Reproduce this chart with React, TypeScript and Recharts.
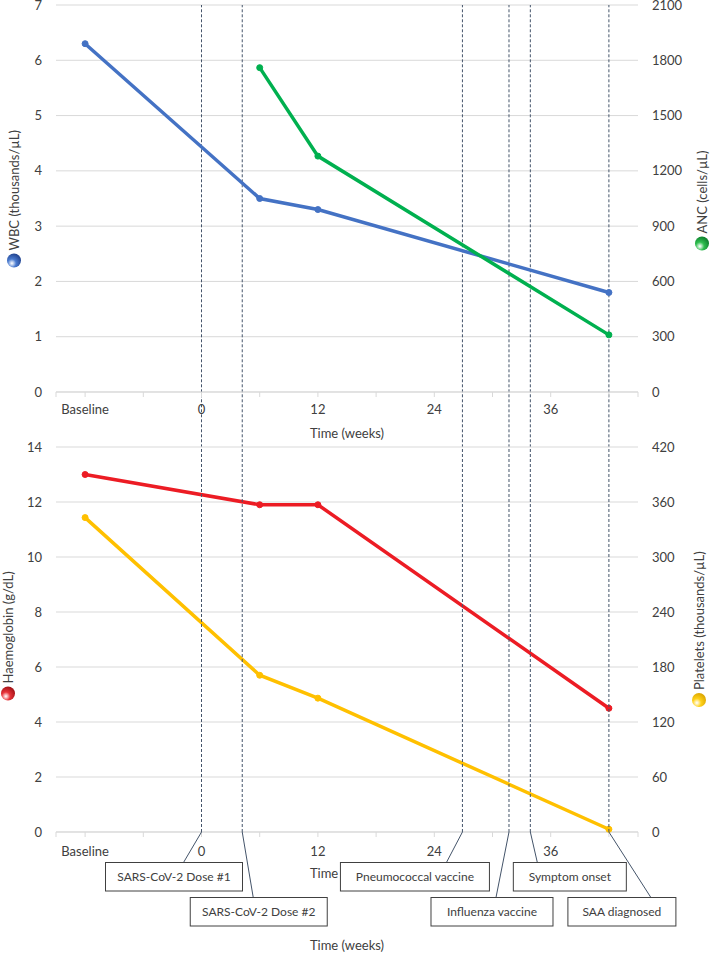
import React from "react";
import { LineChart, Line, XAxis, YAxis, CartesianGrid, ReferenceLine } from "recharts";

// blood counts, x = weeks (Baseline plotted at -12)
const WEEKS = [-12, 6, 12, 42];
const WBC = [6.3, 3.5, 3.3, 1.8];
const ANC = [null, 1760, 1280, 310];
const HB = [13.0, 11.9, 11.9, 4.5];
const PLT = [343, 171, 146, 3];

const X_TICKS = [-15, -12, -6, 0, 6, 12, 18, 24, 30, 36, 42, 45];
const WBC_TICKS = [0, 1, 2, 3, 4, 5, 6, 7];
const ANC_TICKS = [0, 300, 600, 900, 1200, 1500, 1800, 2100];
const HB_TICKS = [0, 2, 4, 6, 8, 10, 12, 14];
const PLT_TICKS = [0, 60, 120, 180, 240, 300, 360, 420];

const EVENT_LABELS = [
  "SARS-CoV-2 Dose #1",
  "SARS-CoV-2 Dose #2",
  "Pneumococcal vaccine",
  "Influenza vaccine",
  "Symptom onset",
  "SAA diagnosed",
];
const EVENT_WEEKS = [0, 4.2, 26.9, 31.7, 33.9, 42];

// callout placement: box left offset from line, box width, row, leader end offset
const CALLOUTS = [
  { left: -96, width: 137, row: 0, lead: -18 },
  { left: -52, width: 137, row: 1, lead: 11 },
  { left: -122, width: 149, row: 0, lead: -16 },
  { left: -78, width: 122, row: 1, lead: -13 },
  { left: -17, width: 113, row: 0, lead: 7 },
  { left: -41, width: 108, row: 1, lead: 42 },
];

const topData = WEEKS.map((w, i) => ({ week: w, wbc: WBC[i], anc: ANC[i] }));
const bottomData = WEEKS.map((w, i) => ({ week: w, hb: HB[i], plt: PLT[i] }));

const FONT = "Lato, 'Open Sans', sans-serif";
const TEXT = "#404040";
const GRID = "#d9d9d9";
const EVENT_COLOR = "#44546a";

const fmtWeek = (v: number) => (v === -12 ? "Baseline" : v % 12 === 0 && v >= 0 && v <= 36 ? String(v) : "");

function AxisTitle({ viewBox, text, color, dark, offsetX, shift = 0, gid }: any) {
  const cx = viewBox.x + offsetX;
  const cy = viewBox.y + viewBox.height / 2 + shift;
  const textW = text.length * 6.5;
  const total = 14 + 3 + textW;
  const start = -total / 2;
  return (
    <g transform={`translate(${cx},${cy}) rotate(-90)`}>
      <defs>
        <radialGradient id={gid} cx="30%" cy="35%" r="75%">
          <stop offset="0%" stopColor="#ffffff" stopOpacity={0.85} />
          <stop offset="40%" stopColor={color} />
          <stop offset="100%" stopColor={dark} />
        </radialGradient>
      </defs>
      <circle cx={start + 7} cy={0} r={7} fill={`url(#${gid})`} />
      <text x={start + 17} y={0} dominantBaseline="central" fontSize={13} fill={TEXT} fontFamily={FONT}>
        {text}
      </text>
    </g>
  );
}

function TimeTitle({ viewBox, extra }: any) {
  const cx = viewBox.x + viewBox.width / 2;
  return (
    <g>
      <text x={cx} y={viewBox.y + 41} textAnchor="middle" dominantBaseline="central" fontSize={13} fill={TEXT} fontFamily={FONT}>
        Time (weeks)
      </text>
      {extra && (
        <text x={cx} y={viewBox.y + 113} textAnchor="middle" dominantBaseline="central" fontSize={13} fill={TEXT} fontFamily={FONT}>
          Time (weeks)
        </text>
      )}
    </g>
  );
}

function Callout({ viewBox, idx }: any) {
  const c = CALLOUTS[idx];
  const lx = viewBox.x;
  const ly = viewBox.y + viewBox.height;
  const top = ly + (c.row === 0 ? 30.5 : 65.5);
  const h = 28.5;
  return (
    <g>
      <line x1={lx} y1={ly} x2={lx + c.lead} y2={top} stroke={EVENT_COLOR} strokeWidth={1} />
      <rect x={lx + c.left} y={top} width={c.width} height={h} fill="#fff" stroke={TEXT} strokeWidth={1} />
      <text
        x={lx + c.left + c.width / 2}
        y={top + h / 2}
        textAnchor="middle"
        dominantBaseline="central"
        fontSize={12}
        fill={TEXT}
        fontFamily={FONT}
      >
        {EVENT_LABELS[idx]}
      </text>
    </g>
  );
}

const lineProps = (color: string) => ({
  type: "linear" as const,
  stroke: color,
  strokeWidth: 3.5,
  dot: { r: 3, fill: color, stroke: color, strokeWidth: 1 },
  activeDot: false as const,
  isAnimationActive: false,
});

export default function App() {
  return (
    <div style={{ position: "absolute", left: 0, top: 0, width: 710, height: 962, background: "#fff", fontFamily: FONT }}>
      <div style={{ position: "absolute", left: 0, top: 0 }}>
        <LineChart width={710} height={447} data={topData} margin={{ top: 5, right: 0, bottom: 0, left: 0 }}>
          <CartesianGrid yAxisId="left" vertical={false} stroke={GRID} />
          <XAxis
            type="number"
            dataKey="week"
            domain={[-15, 45]}
            ticks={X_TICKS}
            interval={0}
            tickFormatter={fmtWeek}
            height={55}
            tickSize={5}
            tickMargin={8}
            axisLine={{ stroke: GRID }}
            tickLine={{ stroke: GRID }}
            tick={{ fontSize: 13, fill: TEXT, fontFamily: FONT }}
            label={(p: any) => <TimeTitle viewBox={p.viewBox} />}
          />
          <YAxis
            yAxisId="left"
            domain={[0, 7]}
            ticks={WBC_TICKS}
            interval={0}
            width={56}
            axisLine={false}
            tickLine={false}
            tickMargin={8}
            tick={{ fontSize: 13, fill: TEXT, fontFamily: FONT }}
            label={(p: any) => (
              <AxisTitle viewBox={p.viewBox} text="WBC (thousands/µL)" color="#4a7bd0" dark="#1f3f8a" offsetX={14} shift={2} gid="gWbc" />
            )}
          />
          <YAxis
            yAxisId="right"
            orientation="right"
            domain={[0, 2100]}
            ticks={ANC_TICKS}
            interval={0}
            width={72}
            axisLine={false}
            tickLine={false}
            tickMargin={8}
            tick={{ fontSize: 13, fill: TEXT, fontFamily: FONT }}
            label={(p: any) => (
              <AxisTitle viewBox={p.viewBox} text="ANC (cells/µL)" color="#2fbf4f" dark="#0b7a2a" offsetX={64} shift={-2} gid="gAnc" />
            )}
          />
          {EVENT_WEEKS.map((w, i) => (
            <ReferenceLine
              key={`t${i}`}
              yAxisId="left"
              segment={[{ x: w, y: -1 }, { x: w, y: 7 }]}
              ifOverflow="visible"
              stroke={EVENT_COLOR}
              strokeWidth={1}
              strokeDasharray="3 2"
            />
          ))}
          <Line yAxisId="left" dataKey="wbc" {...lineProps("#4472c4")} />
          <Line yAxisId="right" dataKey="anc" {...lineProps("#00b04f")} />
        </LineChart>
      </div>
      <div style={{ position: "absolute", left: 0, top: 427 }}>
        <LineChart width={710} height={535} data={bottomData} margin={{ top: 20, right: 0, bottom: 0, left: 0 }}>
          <CartesianGrid yAxisId="left" vertical={false} stroke={GRID} />
          <XAxis
            type="number"
            dataKey="week"
            domain={[-15, 45]}
            ticks={X_TICKS}
            interval={0}
            tickFormatter={fmtWeek}
            height={130}
            tickSize={5}
            tickMargin={9.5}
            axisLine={{ stroke: GRID }}
            tickLine={{ stroke: GRID }}
            tick={{ fontSize: 13, fill: TEXT, fontFamily: FONT }}
            label={(p: any) => <TimeTitle viewBox={p.viewBox} extra />}
          />
          <YAxis
            yAxisId="left"
            domain={[0, 14]}
            ticks={HB_TICKS}
            interval={0}
            width={56}
            axisLine={false}
            tickLine={false}
            tickMargin={8}
            tick={{ fontSize: 13, fill: TEXT, fontFamily: FONT }}
            label={(p: any) => (
              <AxisTitle viewBox={p.viewBox} text="Haemoglobin (g/dL)" color="#e8343a" dark="#9e0f14" offsetX={8} shift={-6} gid="gHb" />
            )}
          />
          <YAxis
            yAxisId="right"
            orientation="right"
            domain={[0, 420]}
            ticks={PLT_TICKS}
            interval={0}
            width={72}
            axisLine={false}
            tickLine={false}
            tickMargin={8}
            tick={{ fontSize: 13, fill: TEXT, fontFamily: FONT }}
            label={(p: any) => (
              <AxisTitle viewBox={p.viewBox} text="Platelets (thousands/µL)" color="#ffd21a" dark="#d9a300" offsetX={61} shift={-19} gid="gPlt" />
            )}
          />
          <Line yAxisId="left" dataKey="hb" {...lineProps("#ec1c24")} />
          <Line yAxisId="right" dataKey="plt" {...lineProps("#ffc000")} />
          {EVENT_WEEKS.map((w, i) => (
            <ReferenceLine
              key={`b${i}`}
              yAxisId="left"
              x={w}
              ifOverflow="visible"
              stroke={EVENT_COLOR}
              strokeWidth={1}
              strokeDasharray="3 2"
              zIndex={3000}
              label={(p: any) => <Callout viewBox={p.viewBox} idx={i} />}
            />
          ))}
        </LineChart>
      </div>
    </div>
  );
}
